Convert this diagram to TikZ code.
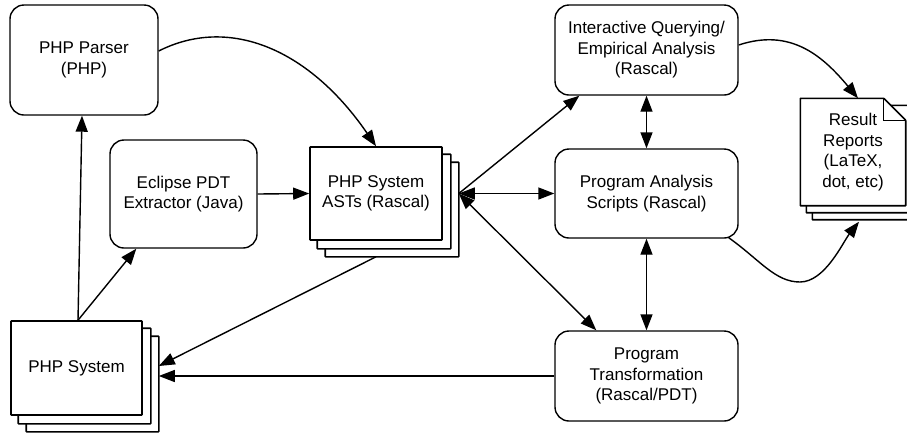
\documentclass[tikz,border=0pt]{standalone}
\usepackage{fontspec}
\setmainfont{Liberation Sans}
\usetikzlibrary{arrows.meta,backgrounds}
\begin{document}
\begin{tikzpicture}[x=1pt,y=-1pt, line width=1.4pt,
  rbox/.style={draw, rounded corners=14pt, align=center, inner sep=0pt, fill=white},
  pbox/.style={draw, line width=1.6pt, rounded corners=0.5pt, align=center, inner sep=0pt, fill=white},
  page/.style={draw, line width=1.6pt, rounded corners=0.5pt, fill=white},
  arr/.style={-{Triangle[length=16pt,width=12pt]}},
  darr/.style={{Triangle[length=16pt,width=12pt]}-{Triangle[length=16pt,width=12pt]}},
  font=\fontsize{17}{20.5}\selectfont]
\useasboundingbox (0,0) rectangle (907,432);

% boxes
\node[rbox, minimum width=148pt, minimum height=110pt] (parser) at (84,60) {PHP Parser\\(PHP)};
\node[rbox, minimum width=147pt, minimum height=108pt] (eclipse) at (183.5,194) {Eclipse PDT\\Extractor (Java)};
\node[pbox, minimum width=132pt, minimum height=93pt] (ast) at (376,193.5) {PHP System\\ASTs (Rascal)};
\node[pbox, minimum width=131pt, minimum height=94pt] (sys) at (76.5,368) {PHP System};
\node[rbox, minimum width=183pt, minimum height=90pt] (inter) at (646.5,50) {Interactive Querying/\\Empirical Analysis\\(Rascal)};
\node[rbox, minimum width=183pt, minimum height=89pt] (analysis) at (646.5,193.5) {Program Analysis\\Scripts (Rascal)};
\node[rbox, minimum width=183pt, minimum height=90pt] (transform) at (646.5,376) {Program\\Transformation\\(Rascal/PDT)};
\node[align=center, inner sep=0pt, minimum width=104pt, minimum height=106pt] (result) at (853,152) {Result\\Reports\\(LaTeX,\\dot, etc)};

% stacked pages
\begin{scope}[on background layer]
  \draw[page] ([shift={(16pt,-16pt)}]ast.south west) rectangle ([shift={(16pt,-16pt)}]ast.north east);
  \draw[page] ([shift={(8pt,-8pt)}]ast.south west) rectangle ([shift={(8pt,-8pt)}]ast.north east);
  \draw[page] ([shift={(16pt,-16pt)}]sys.south west) rectangle ([shift={(16pt,-16pt)}]sys.north east);
  \draw[page] ([shift={(8pt,-8pt)}]sys.south west) rectangle ([shift={(8pt,-8pt)}]sys.north east);
  \draw[page] ([shift={(12pt,-14pt)}]result.south west) rectangle ([shift={(12pt,-14pt)}]result.north east);
  \draw[page] ([shift={(6pt,-7pt)}]result.south west) rectangle ([shift={(6pt,-7pt)}]result.north east);
  \draw[page] (result.north west) -- ([xshift=-22pt]result.north east) -- ([yshift=-22pt]result.north east) -- (result.south east) -- (result.south west) -- cycle;
\end{scope}
\draw ([xshift=-22pt]result.north east) -- ([xshift=-22pt,yshift=-22pt]result.north east) -- ([yshift=-22pt]result.north east);

% helper coordinates
\coordinate (astR) at ([xshift=16pt]ast.east);
\coordinate (astB) at ([yshift=-16pt]ast.south);
\coordinate (sysR) at ([xshift=16pt,yshift=2pt]sys.east);
\coordinate (sysT) at ([xshift=1.5pt]sys.north);

% connectors
\draw[arr] (sysT) -- ([xshift=-2pt]parser.south);
\draw[arr] (sysT) -- ([xshift=27pt]eclipse.south west);
\draw[arr] (eclipse.east) -- (ast.west);
\draw[arr] ([yshift=9pt]parser.east) .. controls (230,15) and (310,50) .. (ast.north);
\draw[arr] (astB) -- (sysR);
\draw[arr] (transform.west) -- (sysR |- transform.west);
\draw[arr] (astR) -- ([xshift=25pt]inter.south west);
\draw[darr] (astR) -- (analysis.west);
\draw[darr] (astR) -- ([xshift=42pt]transform.north west);
\draw[darr] (inter.south) -- (analysis.north);
\draw[darr] (analysis.south) -- (transform.north);
\draw[arr] ([yshift=5pt]inter.east) .. controls (790,28) and (822,55) .. ([xshift=5pt]result.north);
\draw[arr] ([xshift=-10pt,yshift=1pt]analysis.south east) .. controls (760,260) and (775,282) .. (800,282) .. controls (825,282) and (843,242) .. ([xshift=6pt,yshift=-16pt]result.south);
\end{tikzpicture}
\end{document}
